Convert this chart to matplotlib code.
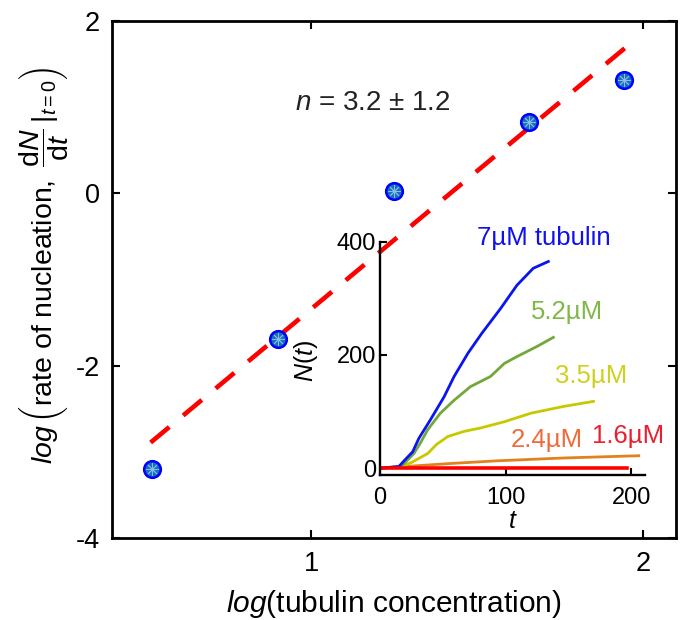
import numpy as np
import matplotlib
matplotlib.use('Agg')
import matplotlib.pyplot as plt

plt.rcParams['font.family'] = ['Liberation Sans', 'DejaVu Sans']
plt.rcParams['mathtext.fontset'] = 'custom'
plt.rcParams['mathtext.rm'] = 'Liberation Sans'
plt.rcParams['mathtext.it'] = 'Liberation Sans:italic'
plt.rcParams['mathtext.bf'] = 'Liberation Sans:bold'

# main panel: log rate vs log concentration
log_conc = [0.52, 0.90, 1.25, 1.655, 1.944]
log_rate = [-3.20, -1.69, 0.03, 0.825, 1.31]
fit_x = [0.515, 1.945]
fit_y = [-2.89, 1.68]

# inset: N(t) curves
t_7 = [0, 15, 20, 26, 31, 40, 51, 59, 70, 81, 96, 109, 122, 134]
N_7 = [0, 3, 15, 29, 53, 85, 126, 162, 203, 238, 282, 323, 353, 365]
t_52 = [0, 17, 27, 32, 38, 48, 59, 72, 88, 99, 109, 125, 138]
N_52 = [0, 3, 26, 44, 68, 97, 120, 144, 162, 185, 197, 215, 231]
t_35 = [0, 17, 25, 38, 45, 54, 67, 80, 99, 120, 146, 170]
N_35 = [0, 3, 10, 26, 42, 56, 65, 71, 82, 97, 109, 118]
t_24 = [0, 54, 93, 146, 206]
N_24 = [0, 8, 13, 18, 22]
t_16 = [0, 197]
N_16 = [0, 0]

fig = plt.figure(figsize=(6.83, 6.2), dpi=100)
ax = fig.add_axes([0.1647, 0.1318, 0.8251, 0.8348])

ax.plot(fit_x, fit_y, color='red', lw=3.3, dashes=(5.3, 3.93), zorder=2)
ax.plot(log_conc, log_rate, 'o', ms=12, mfc='#1a6ebe', mec='blue', mew=1.8, zorder=3)
ax.plot(log_conc, log_rate, marker=(8, 2, 0), ls='none', ms=9, mec='#86bde8', mew=0.6, zorder=4)

ax.set_xlim(0.4, 2.1)
ax.set_ylim(-4, 2)
ax.set_xticks([1, 2])
ax.set_yticks([-4, -2, 0, 2])
ax.set_yticklabels(['-4', '-2', '0', '2'])
ax.tick_params(direction='in', top=True, right=True, length=6, width=1.5,
               labelsize=19.5, pad=9)
for s in ax.spines.values():
    s.set_linewidth(2)

ax.set_xlabel(r'$\mathit{log}$(tubulin concentration)', fontsize=21.5, labelpad=8)
fig.text(44 / 683, 1 - 265 / 620,
         r'$\mathit{log}\,\left(\mathrm{rate\ of\ nucleation,}\ \dfrac{\mathrm{d}N}{\mathrm{d}t}\,|_{t=0}\right)$',
         fontsize=20.5, rotation=90, ha='center', va='center')
ax.text(0.95, 1.05, r'$n$ = 3.2 $\pm$ 1.2', fontsize=20, ha='left', va='center', color='#222222')

# inset
ins = fig.add_axes([0.5564, 0.2339, 0.388, 0.3763])
ins.patch.set_alpha(0)
ins.plot(t_24, N_24, color='#e3821c', lw=2)
ins.plot(t_35, N_35, color='#c8c800', lw=2)
ins.plot(t_52, N_52, color='#72a83a', lw=2)
ins.plot(t_7, N_7, color='#0a14f0', lw=2)
ins.plot(t_16, N_16, color='red', lw=2.6)
ins.set_xlim(0, 211)
ins.set_ylim(-12, 400)
ins.set_xticks([0, 100, 200])
ins.set_yticks([0, 200, 400])
ins.spines['top'].set_visible(False)
ins.spines['right'].set_visible(False)
for s in ['left', 'bottom']:
    ins.spines[s].set_linewidth(1.7)
ins.tick_params(direction='in', length=5, width=1.5, labelsize=17)
ins.tick_params(axis='x', pad=9)
ins.tick_params(axis='y', pad=3)
ins.set_xlabel(r'$t$', fontsize=18, labelpad=0)
ins.set_ylabel(r'$N(t)$', fontsize=18)
ins.yaxis.set_label_coords(-0.226, 0.49)

ins.text(77, 406, u'7\u00b5M tubulin', color='#1010f0', fontsize=18.5, ha='left', va='center', clip_on=False)
ins.text(120, 276, u'5.2\u00b5M', color='#80b848', fontsize=18.5, ha='left', va='center')
ins.text(139, 163, u'3.5\u00b5M', color='#d0d020', fontsize=18.5, ha='left', va='center')
ins.text(104, 50, u'2.4\u00b5M', color='#f06a3a', fontsize=18.5, ha='left', va='center')
ins.text(169, 56, u'1.6\u00b5M', color='#e82030', fontsize=18.5, ha='left', va='center', clip_on=False)

fig.savefig('out.png', dpi=100)
